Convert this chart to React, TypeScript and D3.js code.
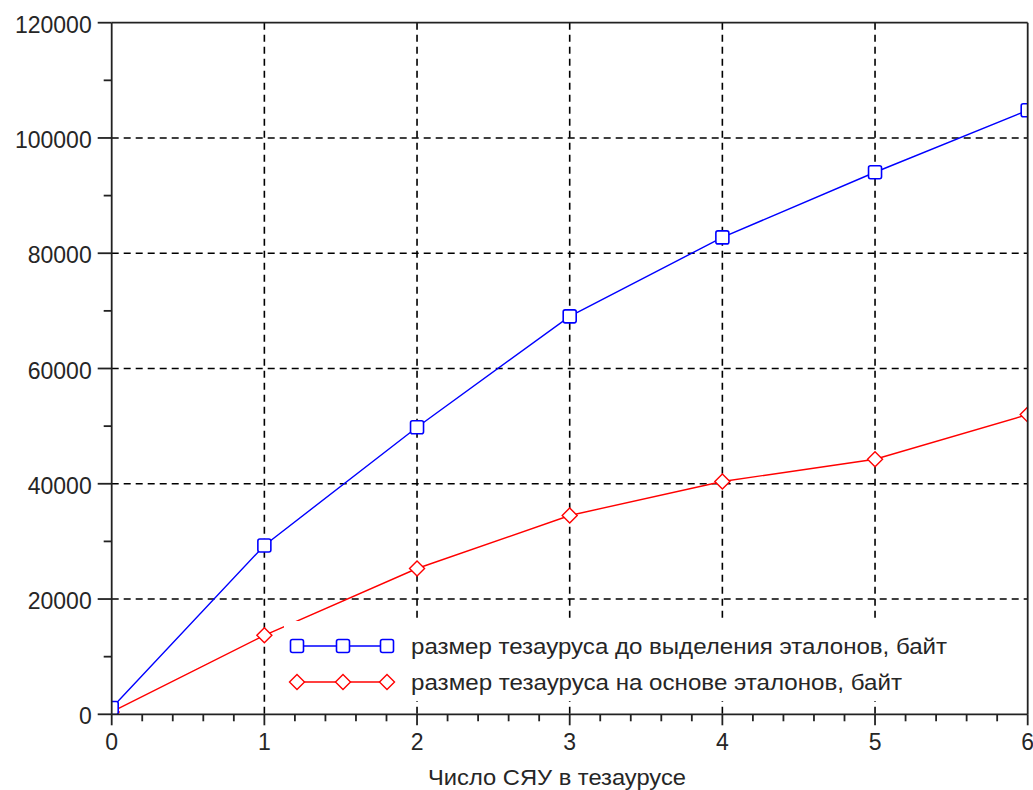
import React from "react";
import * as d3 from "d3";

const xValues = [0, 1, 2, 3, 4, 5, 6];
const seriesBefore = [1100, 29300, 49800, 69050, 82750, 94050, 104800];
const seriesAfter = [400, 13700, 25300, 34500, 40400, 44250, 52000];
const yTicks = [0, 20000, 40000, 60000, 80000, 100000, 120000];
const xTicks = [0, 1, 2, 3, 4, 5, 6];
const legendLabels = [
  "размер тезауруса до выделения эталонов, байт",
  "размер тезауруса на основе эталонов, байт",
];
const xTitle = "Число СЯУ в тезаурусе";

const W = 1033;
const H = 790;
const L = 111.7;
const R = 1027.7;
const T = 22.7;
const B = 714.3;
const FONT = "'Liberation Sans', Arial, sans-serif";
const TXT = "#262626";

export default function App() {
  const x = d3.scaleLinear().domain([0, 6]).range([L, R]);
  const y = d3.scaleLinear().domain([0, 120000]).range([B, T]);
  const line = d3
    .line<number>()
    .x((_, i) => x(xValues[i]))
    .y((d) => y(d));

  const yMinor = d3.range(10000, 120000, 20000);
  const xMinor = d3.range(0, 6.0001, 0.2).filter((v) => Math.abs(v - Math.round(v)) > 1e-6);

  const sq = 13;
  const square = (cx: number, cy: number, key: string) => (
    <rect key={key} x={cx - sq / 2} y={cy - sq / 2} width={sq} height={sq} rx={2} fill="#fff" stroke="#0000ff" strokeWidth={1.6} />
  );
  const dm = 7.5;
  const diamond = (cx: number, cy: number, key: string) => (
    <path key={key} d={`M${cx - dm},${cy}L${cx},${cy - dm}L${cx + dm},${cy}L${cx},${cy + dm}Z`} fill="#fff" stroke="#ff0000" strokeWidth={1.4} />
  );

  const legX = [297, 343, 387];
  const legY = [646, 682];

  return (
    <svg width={W} height={H} style={{ position: "absolute", left: 0, top: 0, background: "#fff" }} fontFamily={FONT}>
      <rect x={0} y={0} width={W} height={H} fill="#fff" />
      <defs>
        <clipPath id="plotclip">
          <rect x={L} y={T} width={R - L} height={B - T} />
        </clipPath>
      </defs>
      {/* grid */}
      {yTicks.filter((v) => v > 0 && v < 120000).map((v) => (
        <line key={"gy" + v} x1={L} x2={R} y1={y(v)} y2={y(v)} stroke="#000" strokeWidth={1.6} strokeDasharray="7,5" />
      ))}
      {xTicks.filter((v) => v > 0 && v < 6).map((v) => (
        <line key={"gx" + v} x1={x(v)} x2={x(v)} y1={T} y2={B} stroke="#000" strokeWidth={1.6} strokeDasharray="7,5" />
      ))}
      {/* series */}
      <g clipPath="url(#plotclip)">
        <path d={line(seriesAfter) || ""} fill="none" stroke="#ff0000" strokeWidth={1.4} />
        <path d={line(seriesBefore) || ""} fill="none" stroke="#0000ff" strokeWidth={1.4} />
        {seriesAfter.map((v, i) => diamond(x(xValues[i]), y(v), "d" + i))}
        {seriesBefore.map((v, i) => square(x(xValues[i]), y(v), "s" + i))}
      </g>
      {/* frame */}
      <line x1={L} x2={L} y1={T} y2={B} stroke="#222" strokeWidth={1.8} />
      <line x1={L} x2={R} y1={B} y2={B} stroke="#222" strokeWidth={1.8} />
      <line x1={L} x2={R} y1={T} y2={T} stroke="#222" strokeWidth={1.8} />
      <line x1={R} x2={R} y1={T} y2={B} stroke="#222" strokeWidth={1.8} />
      {/* y ticks */}
      {yTicks.map((v) => (
        <g key={"yt" + v}>
          <line x1={L - 14} x2={L} y1={y(v)} y2={y(v)} stroke="#222" strokeWidth={1.8} />
          <text x={L - 20} y={y(v) + 2} textAnchor="end" dominantBaseline="central" fontSize={23} fill={TXT}>
            {v}
          </text>
        </g>
      ))}
      {yMinor.map((v) => (
        <line key={"ym" + v} x1={L - 8} x2={L} y1={y(v)} y2={y(v)} stroke="#222" strokeWidth={1.8} />
      ))}
      {/* x ticks */}
      {xTicks.map((v) => (
        <g key={"xt" + v}>
          <line x1={x(v)} x2={x(v)} y1={B} y2={B + 11} stroke="#222" strokeWidth={1.8} />
          <text x={x(v)} y={B + 36} textAnchor="middle" fontSize={23} fill={TXT}>
            {v}
          </text>
        </g>
      ))}
      {xMinor.map((v) => (
        <line key={"xm" + v} x1={x(v)} x2={x(v)} y1={B} y2={B + 7} stroke="#222" strokeWidth={1.8} />
      ))}
      <text x={428} y={785} fontSize={22} fill={TXT} textLength={258} lengthAdjust="spacingAndGlyphs">
        {xTitle}
      </text>
      {/* legend */}
      <rect x={284} y={621} width={680} height={80} fill="#fff" />
      <line x1={legX[0]} x2={legX[2]} y1={legY[0]} y2={legY[0]} stroke="#0000ff" strokeWidth={1.4} />
      {legX.map((lx, i) => square(lx, legY[0], "ls" + i))}
      <line x1={legX[0]} x2={legX[2]} y1={legY[1]} y2={legY[1]} stroke="#ff0000" strokeWidth={1.4} />
      {legX.map((lx, i) => diamond(lx, legY[1], "ld" + i))}
      <text x={411} y={legY[0]} dominantBaseline="central" fontSize={22} fill={TXT} textLength={536} lengthAdjust="spacingAndGlyphs">
        {legendLabels[0]}
      </text>
      <text x={411} y={legY[1]} dominantBaseline="central" fontSize={22} fill={TXT} textLength={491} lengthAdjust="spacingAndGlyphs">
        {legendLabels[1]}
      </text>
    </svg>
  );
}
